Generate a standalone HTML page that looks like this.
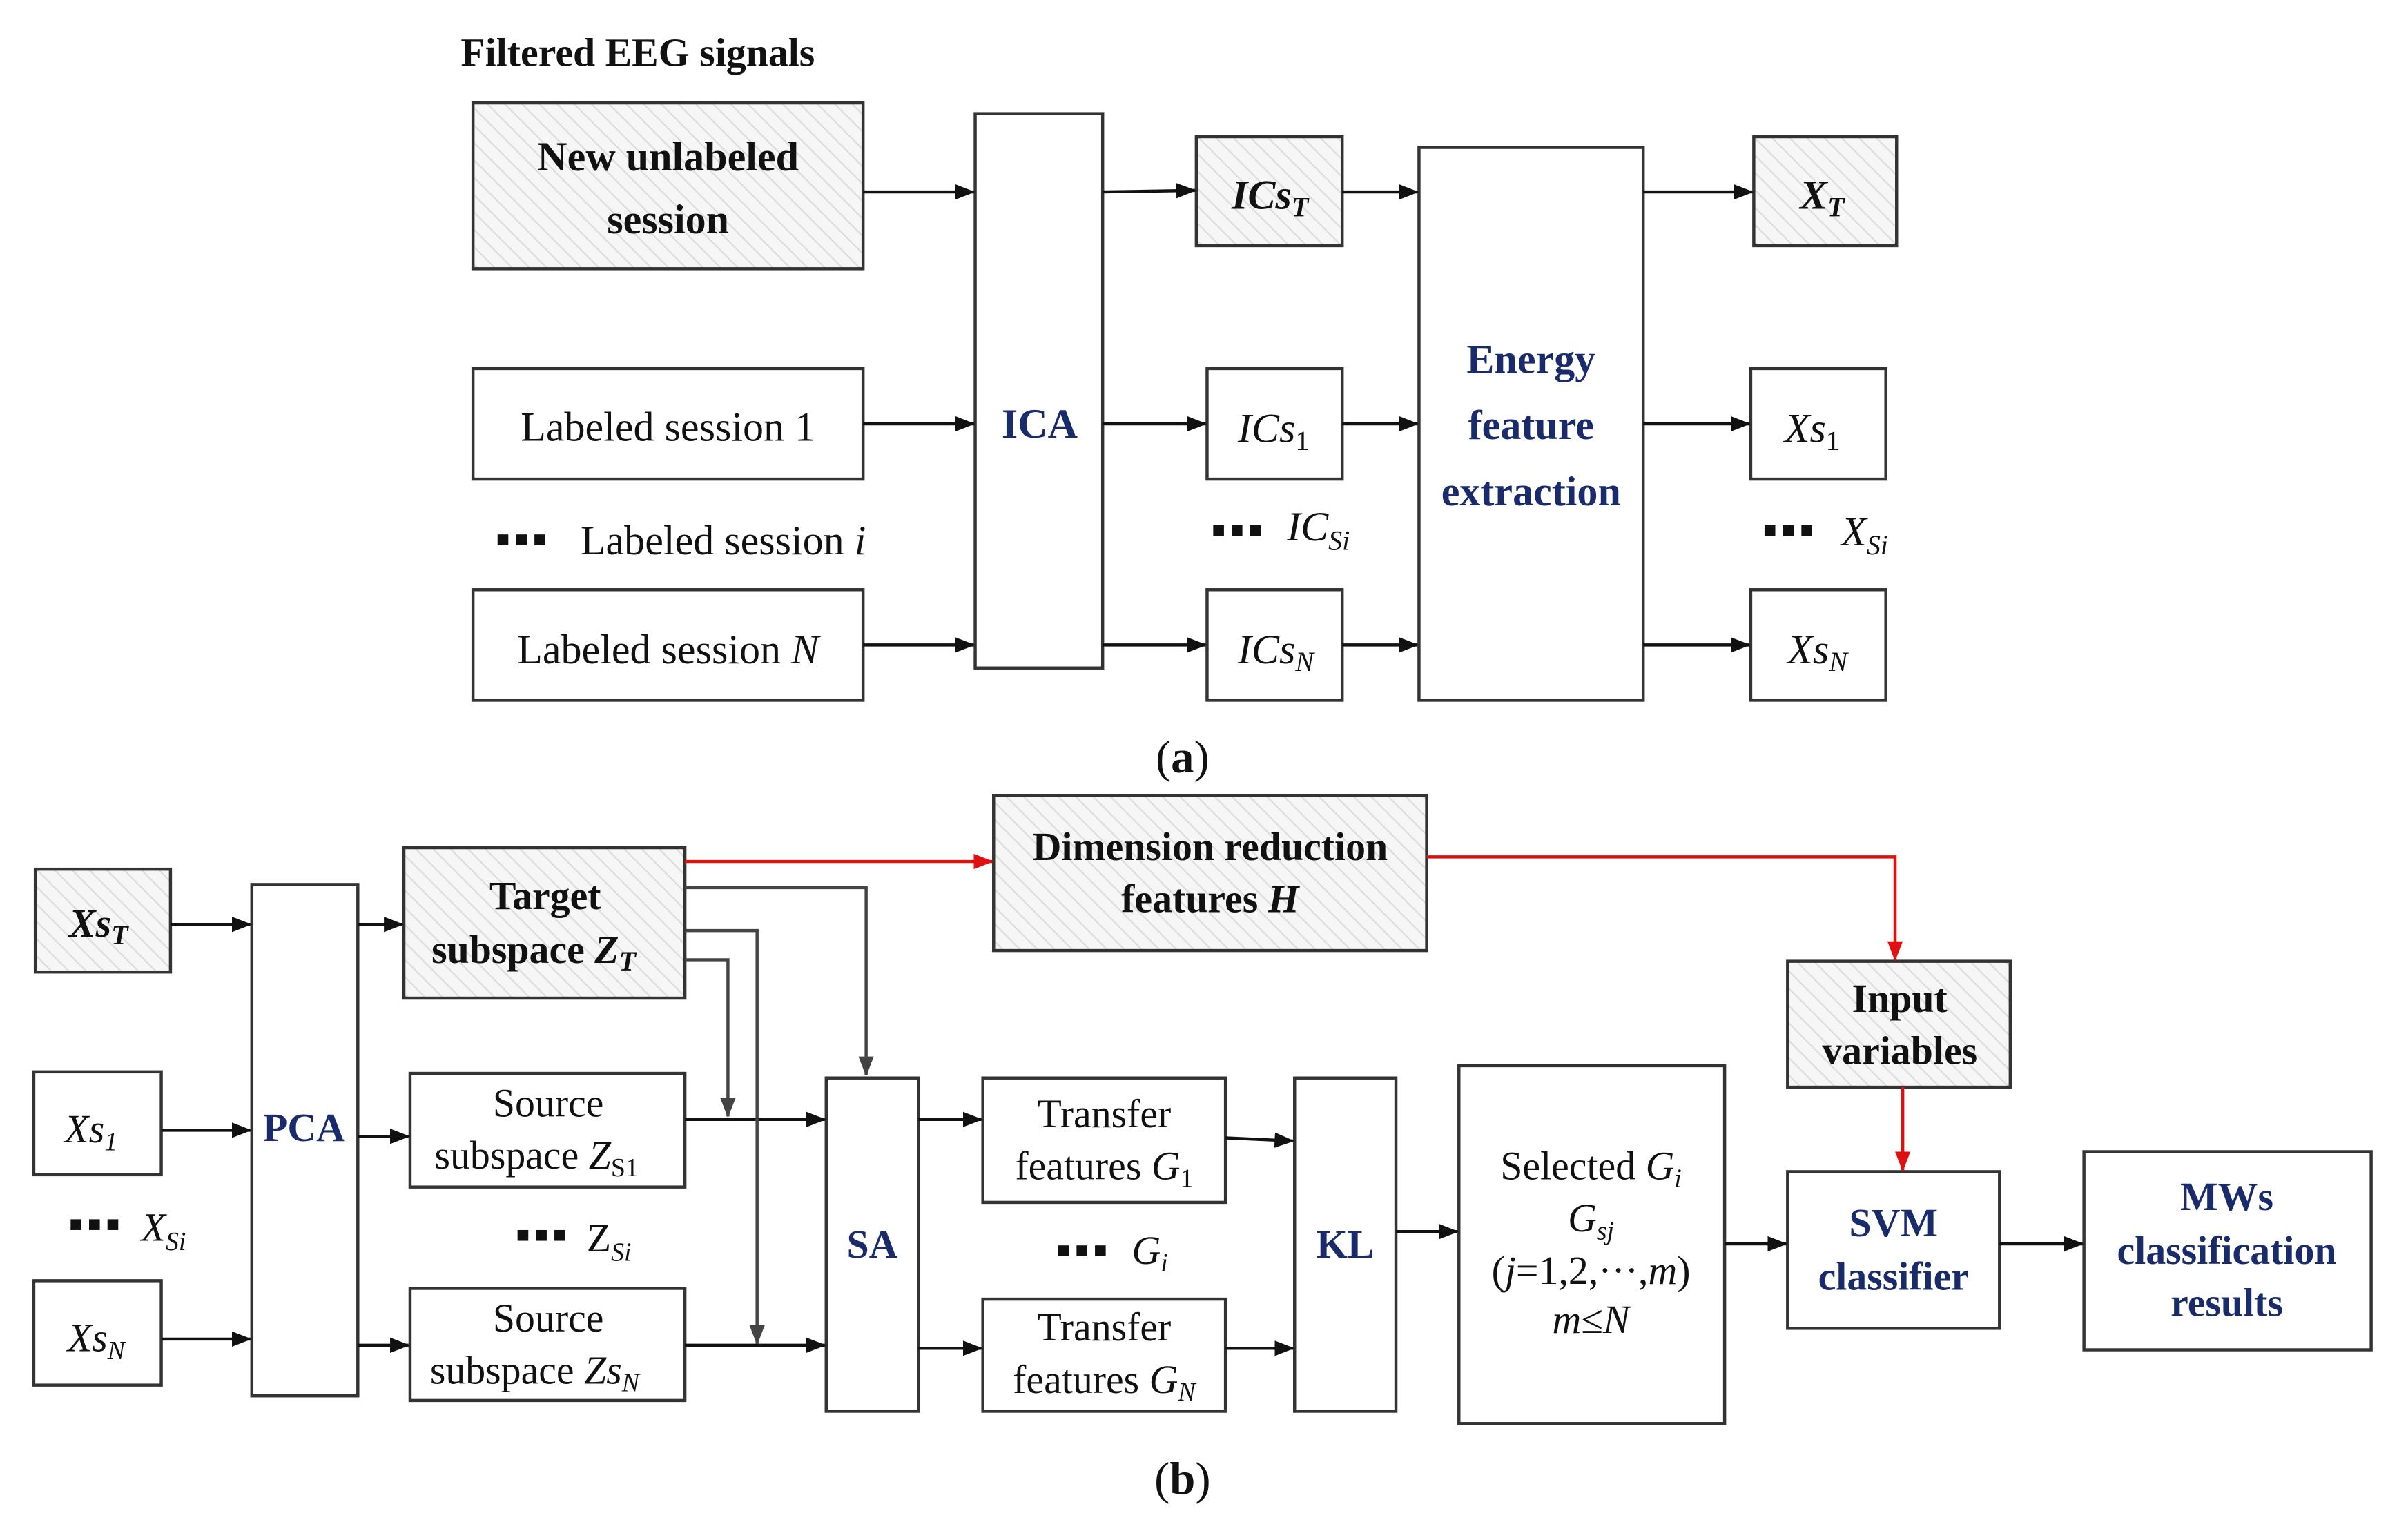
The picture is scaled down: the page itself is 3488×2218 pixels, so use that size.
<!DOCTYPE html>
<html><head><meta charset="utf-8"><style>
html,body{margin:0;padding:0;background:#fff;}
svg{display:block;}
text{font-family:"Liberation Serif",serif;fill:#111;}
.b{font-weight:bold;}
.n{fill:#1a2b6b;font-weight:bold;}
.i{font-style:italic;}
</style></head><body>
<svg width="3488" height="2218" viewBox="0 0 1568 997" preserveAspectRatio="none" xmlns="http://www.w3.org/2000/svg">
<defs>
<pattern id="h" width="8" height="8" patternUnits="userSpaceOnUse" patternTransform="rotate(-45)">
<rect width="8" height="8" fill="#f6f6f6"/><line x1="0" y1="0" x2="0" y2="8" stroke="#dcdcdc" stroke-width="2"/>
</pattern>
<marker id="a" markerWidth="13" markerHeight="10" refX="12" refY="5" orient="auto" markerUnits="userSpaceOnUse"><path d="M0,0 L13,5 L0,10 z" fill="#111"/></marker>
<marker id="g" markerWidth="13" markerHeight="10" refX="12" refY="5" orient="auto" markerUnits="userSpaceOnUse"><path d="M0,0 L13,5 L0,10 z" fill="#444"/></marker>
<marker id="r" markerWidth="13" markerHeight="10" refX="12" refY="5" orient="auto" markerUnits="userSpaceOnUse"><path d="M0,0 L13,5 L0,10 z" fill="#e01010"/></marker>
</defs>
<g stroke="#333" stroke-width="2" fill="#fff">
<rect x="308" y="67" width="254" height="108" fill="url(#h)"/>
<rect x="308" y="240" width="254" height="72"/>
<rect x="308" y="384" width="254" height="72"/>
<rect x="635" y="74" width="83" height="361"/>
<rect x="779" y="89" width="95" height="71" fill="url(#h)"/>
<rect x="786" y="240" width="88" height="72"/>
<rect x="786" y="384" width="88" height="72"/>
<rect x="924" y="96" width="146" height="360"/>
<rect x="1142" y="89" width="93" height="71" fill="url(#h)"/>
<rect x="1140" y="240" width="88" height="72"/>
<rect x="1140" y="384" width="88" height="72"/>

<rect x="23" y="566" width="88" height="67" fill="url(#h)"/>
<rect x="164" y="576" width="69" height="333"/>
<rect x="263" y="552" width="183" height="98" fill="url(#h)"/>
<rect x="22" y="698" width="83" height="67"/>
<rect x="22" y="834" width="83" height="68"/>
<rect x="267" y="699" width="179" height="74"/>
<rect x="267" y="839" width="179" height="73"/>
<rect x="538" y="702" width="60" height="217"/>
<rect x="647" y="518" width="282" height="101" fill="url(#h)"/>
<rect x="640" y="702" width="158" height="81"/>
<rect x="640" y="846" width="158" height="73"/>
<rect x="843" y="702" width="66" height="217"/>
<rect x="950" y="694" width="173" height="233"/>
<rect x="1164" y="626" width="145" height="82" fill="url(#h)"/>
<rect x="1164" y="763" width="138" height="102"/>
<rect x="1357" y="750" width="187" height="129"/>
</g>
<g stroke="#111" stroke-width="2" fill="none" marker-end="url(#a)">
<line x1="562" y1="125" x2="634" y2="125"/>
<line x1="562" y1="276" x2="634" y2="276"/>
<line x1="562" y1="420" x2="634" y2="420"/>
<line x1="718" y1="125" x2="778" y2="124"/>
<line x1="718" y1="276" x2="785" y2="276"/>
<line x1="718" y1="420" x2="785" y2="420"/>
<line x1="874" y1="125" x2="923" y2="125"/>
<line x1="874" y1="276" x2="923" y2="276"/>
<line x1="874" y1="420" x2="923" y2="420"/>
<line x1="1070" y1="125" x2="1141" y2="125"/>
<line x1="1070" y1="276" x2="1139" y2="276"/>
<line x1="1070" y1="420" x2="1139" y2="420"/>

<line x1="111" y1="602" x2="163" y2="602"/>
<line x1="105" y1="736" x2="163" y2="736"/>
<line x1="105" y1="872" x2="163" y2="872"/>
<line x1="233" y1="602" x2="262" y2="602"/>
<line x1="233" y1="740" x2="266" y2="740"/>
<line x1="233" y1="876" x2="266" y2="876"/>
<line x1="446" y1="729" x2="537" y2="729"/>
<line x1="446" y1="876" x2="537" y2="876"/>
<line x1="598" y1="729" x2="639" y2="729"/>
<line x1="598" y1="878" x2="639" y2="878"/>
<line x1="798" y1="741" x2="842" y2="743"/>
<line x1="798" y1="878" x2="842" y2="878"/>
<line x1="909" y1="802" x2="949" y2="802"/>
<line x1="1123" y1="810" x2="1163" y2="810"/>
<line x1="1302" y1="810" x2="1356" y2="810"/>
</g>
<g stroke="#444" stroke-width="2" fill="none" marker-end="url(#g)">
<polyline points="446,578 564,578 564,700"/>
<polyline points="446,606 493,606 493,875"/>
<polyline points="446,625 474,625 474,727"/>
</g>
<g stroke="#e01010" stroke-width="2" fill="none" marker-end="url(#r)">
<line x1="446" y1="561" x2="646" y2="561"/>
<polyline points="929,558 1234,558 1234,625"/>
<line x1="1239" y1="708" x2="1239" y2="762"/>
</g>
<g fill="#111">
<rect x="324" y="348" width="7" height="7"/><rect x="336" y="348" width="7" height="7"/><rect x="348" y="348" width="7" height="7"/>
<rect x="790" y="342" width="7" height="7"/><rect x="802" y="342" width="7" height="7"/><rect x="814" y="342" width="7" height="7"/>
<rect x="1149" y="342" width="7" height="7"/><rect x="1161" y="342" width="7" height="7"/><rect x="1173" y="342" width="7" height="7"/>
<rect x="46" y="794" width="7" height="7"/><rect x="58" y="794" width="7" height="7"/><rect x="70" y="794" width="7" height="7"/>
<rect x="337" y="801" width="7" height="7"/><rect x="349" y="801" width="7" height="7"/><rect x="361" y="801" width="7" height="7"/>
<rect x="689" y="811" width="7" height="7"/><rect x="701" y="811" width="7" height="7"/><rect x="713" y="811" width="7" height="7"/>
</g>
<g font-size="27">
<text x="300" y="43" class="b" font-size="26">Filtered EEG signals</text>
<text x="435" y="111" class="b" text-anchor="middle">New unlabeled</text>
<text x="435" y="152" class="b" text-anchor="middle">session</text>
<text x="435" y="287" text-anchor="middle">Labeled session 1</text>
<text x="378" y="361">Labeled session <tspan class="i">i</tspan></text>
<text x="435" y="432" text-anchor="middle">Labeled session <tspan class="i">N</tspan></text>
<text x="677" y="285" class="n" text-anchor="middle">ICA</text>
<text x="802" y="136" class="b i">ICs<tspan font-size="18" dy="5">T</tspan></text>
<text x="806" y="288" class="i">ICs<tspan font-size="18" dy="5" font-style="normal">1</tspan></text>
<text x="838" y="352" class="i">IC<tspan font-size="18" dy="6">Si</tspan></text>
<text x="806" y="432" class="i">ICs<tspan font-size="18" dy="5">N</tspan></text>
<text x="997" y="243" class="n" text-anchor="middle">Energy</text>
<text x="997" y="286" class="n" text-anchor="middle">feature</text>
<text x="997" y="329" class="n" text-anchor="middle">extraction</text>
<text x="1172" y="136" class="b i">X<tspan font-size="18" dy="5">T</tspan></text>
<text x="1162" y="288" class="i">Xs<tspan font-size="18" dy="5" font-style="normal">1</tspan></text>
<text x="1199" y="355" class="i">X<tspan font-size="18" dy="6">Si</tspan></text>
<text x="1164" y="432" class="i">Xs<tspan font-size="18" dy="5">N</tspan></text>
<text x="770" y="503" text-anchor="middle" font-size="30">(<tspan class="b">a</tspan>)</text>

<text x="45" y="610" class="b i" font-size="26">Xs<tspan font-size="18" dy="5">T</tspan></text>
<text x="198" y="743" class="n" text-anchor="middle" font-size="26">PCA</text>
<text x="355" y="592" class="b" text-anchor="middle" font-size="26">Target</text>
<text x="281" y="627" class="b" font-size="26">subspace <tspan class="i">Z</tspan><tspan font-size="18" dy="5" class="i">T</tspan></text>
<text x="42" y="744" class="i" font-size="26">Xs<tspan font-size="17" dy="5">1</tspan></text>
<text x="92" y="808" class="i" font-size="26">X<tspan font-size="17" dy="6">Si</tspan></text>
<text x="44" y="880" class="i" font-size="26">Xs<tspan font-size="17" dy="5">N</tspan></text>
<text x="357" y="727" text-anchor="middle" font-size="26">Source</text>
<text x="283" y="761" font-size="26">subspace <tspan class="i">Z</tspan><tspan font-size="17" dy="5">S1</tspan></text>
<text x="382" y="815" font-size="26">Z<tspan font-size="17" dy="6" class="i">Si</tspan></text>
<text x="357" y="867" text-anchor="middle" font-size="26">Source</text>
<text x="280" y="901" font-size="26">subspace <tspan class="i">Zs</tspan><tspan font-size="17" dy="5" class="i">N</tspan></text>
<text x="568" y="819" class="n" text-anchor="middle" font-size="26">SA</text>
<text x="788" y="560" class="b" text-anchor="middle" font-size="26">Dimension reduction</text>
<text x="788" y="594" class="b" text-anchor="middle" font-size="26">features <tspan class="i">H</tspan></text>
<text x="719" y="734" text-anchor="middle" font-size="26">Transfer</text>
<text x="719" y="768" text-anchor="middle" font-size="26">features <tspan class="i">G</tspan><tspan font-size="17" dy="5">1</tspan></text>
<text x="737" y="823" class="i" font-size="26">G<tspan font-size="17" dy="5">i</tspan></text>
<text x="719" y="873" text-anchor="middle" font-size="26">Transfer</text>
<text x="719" y="907" text-anchor="middle" font-size="26">features <tspan class="i">G</tspan><tspan font-size="17" dy="5" class="i">N</tspan></text>
<text x="876" y="819" class="n" text-anchor="middle" font-size="26">KL</text>
<text x="1036" y="768" text-anchor="middle" font-size="26">Selected <tspan class="i">G</tspan><tspan font-size="17" dy="5" class="i">i</tspan></text>
<text x="1036" y="802" text-anchor="middle" font-size="26" class="i">G<tspan font-size="17" dy="5">sj</tspan></text>
<text x="1036" y="836" text-anchor="middle" font-size="26">(<tspan class="i">j</tspan>=1,2,···,<tspan class="i">m</tspan>)</text>
<text x="1036" y="868" text-anchor="middle" font-size="26"><tspan class="i">m</tspan>≤<tspan class="i">N</tspan></text>
<text x="1237" y="659" class="b" text-anchor="middle" font-size="26">Input</text>
<text x="1237" y="693" class="b" text-anchor="middle" font-size="26">variables</text>
<text x="1233" y="805" class="n" text-anchor="middle" font-size="26">SVM</text>
<text x="1233" y="840" class="n" text-anchor="middle" font-size="26">classifier</text>
<text x="1450" y="788" class="n" text-anchor="middle" font-size="26">MWs</text>
<text x="1450" y="823" class="n" text-anchor="middle" font-size="26">classification</text>
<text x="1450" y="857" class="n" text-anchor="middle" font-size="26">results</text>
<text x="770" y="973" text-anchor="middle" font-size="30">(<tspan class="b">b</tspan>)</text>
</g>
</svg>
</body></html>
